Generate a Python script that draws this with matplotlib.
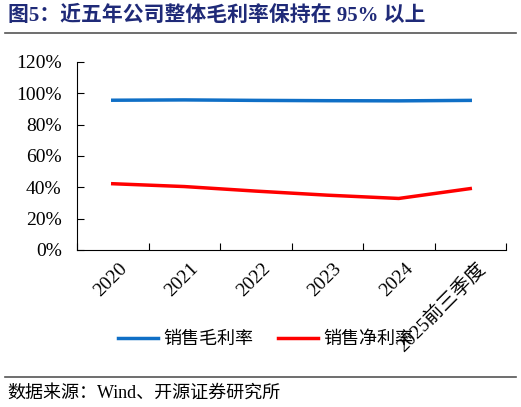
import numpy as np
import matplotlib
matplotlib.use('Agg')
import matplotlib.pyplot as plt
from matplotlib.lines import Line2D

plt.rcParams['font.family'] = ['Liberation Serif', 'Noto Sans CJK SC']

categories = ['2020', '2021', '2022', '2023', '2024', '2025前三季度']
gross_margin = [95.6, 95.8, 95.5, 95.3, 95.2, 95.5]
net_margin = [42.3, 40.5, 37.6, 35.0, 32.9, 39.2]

title = '图5：近五年公司整体毛利率保持在 95% 以上'
source = '数据来源：Wind、开源证券研究所'

W, H = 521, 407
fig = plt.figure(figsize=(W / 100, H / 100), dpi=100)

ax = fig.add_axes([77 / W, (H - 250) / H, 429 / W, 188 / H])
x = np.arange(len(categories))
ax.plot(x, gross_margin, color='#0f6fc6', linewidth=2.5, label='销售毛利率')
ax.plot(x, net_margin, color='#ff0000', linewidth=2.5, label='销售净利率')

ax.set_xlim(-0.5, len(categories) - 0.5)
ax.set_ylim(0, 120)
ax.set_yticks(np.arange(0, 121, 20))
ax.set_yticklabels([f'{v}%' for v in range(0, 121, 20)], fontsize=14)
ax.set_xticks(np.arange(-0.5, len(categories), 1.0), minor=False)
ax.set_xticklabels([])
ax.set_xticks(x + 0.08, minor=True)
ax.set_xticklabels(categories, minor=True, rotation=45, ha='right',
                   rotation_mode='anchor', fontsize=14,
                   family=['Liberation Serif', 'Noto Sans CJK SC'])
ax.tick_params(axis='x', which='minor', length=0, pad=7)
ax.tick_params(axis='x', which='major', direction='in', length=5, width=0.8)
ax.tick_params(axis='y', direction='in', length=5, width=0.8, pad=11)
for s in ['top', 'right']:
    ax.spines[s].set_visible(False)
for s in ['left', 'bottom']:
    ax.spines[s].set_linewidth(0.8)

leg = fig.legend(handles=ax.get_lines(), loc='center', bbox_to_anchor=(0.51, (H - 339) / H),
                 ncol=2, frameon=False, handlelength=2.2, handletextpad=0.3,
                 columnspacing=1.4,
                 prop={'family': 'Noto Sans CJK SC', 'size': 13})
leg.set_zorder(-1)

# title and footer
fig.text(8 / W, 1 - 16 / H, title, fontsize=15, fontweight='bold', color='#1f2a78',
         va='center', ha='left', family=['Liberation Serif', 'Noto Sans CJK SC'])
fig.add_artist(Line2D([5 / W, 516 / W], [1 - 33 / H, 1 - 33 / H], color='#555555', linewidth=1.2))
fig.add_artist(Line2D([5 / W, 516 / W], [1 - 377 / H, 1 - 377 / H], color='#555555', linewidth=1.2))
fig.text(7 / W, 1 - 393 / H, source, fontsize=13, va='center', ha='left',
         family=['Liberation Serif', 'Noto Sans CJK SC'])

fig.savefig('out.png', dpi=100)
